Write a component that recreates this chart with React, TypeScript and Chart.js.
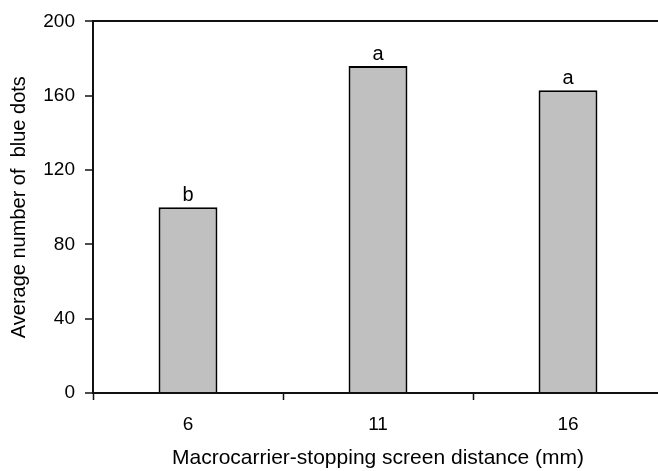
import React, { useEffect, useRef } from "react";
import { Chart, registerables } from "chart.js";

Chart.register(...registerables);

const categories = ["6", "11", "16"];
const values = [100, 176, 163];
const letters = ["b", "a", "a"];
const yTicks = [0, 40, 80, 120, 160, 200];
const xTitle = "Macrocarrier-stopping screen distance (mm)";
const yTitle = "Average number of  blue dots";

const FONT = "'Liberation Sans', Arial, Helvetica, sans-serif";
const LINE = "#111";

const letterPlugin = {
  id: "letters",
  afterDatasetsDraw(chart: any) {
    const meta = chart.getDatasetMeta(0);
    const ctx = chart.ctx;
    ctx.save();
    ctx.font = `20px ${FONT}`;
    ctx.fillStyle = "#000";
    ctx.textAlign = "center";
    ctx.textBaseline = "alphabetic";
    meta.data.forEach((bar: any, i: number) => {
      ctx.fillText(letters[i], bar.x, bar.y - 6);
    });
    ctx.restore();
  },
};

export default function App() {
  const ref = useRef<HTMLCanvasElement | null>(null);
  useEffect(() => {
    if (!ref.current) return;
    const chart = new Chart(ref.current, {
      type: "bar",
      data: {
        labels: categories,
        datasets: [
          {
            data: values,
            backgroundColor: "#c0c0c0",
            borderColor: "#000",
            borderWidth: 2,
            borderSkipped: "start",
            barPercentage: 0.31,
            categoryPercentage: 1,
          },
        ],
      },
      options: {
        responsive: false,
        animation: false,
        devicePixelRatio: 1,
        layout: { padding: { left: 0, right: 17, top: 20, bottom: 0 } },
        plugins: {
          legend: { display: false },
          tooltip: { enabled: false },
        },
        scales: {
          x: {
            type: "category",
            offset: true,
            afterFit: (s: any) => {
              s.height = 78;
            },
            grid: {
              offset: true,
              drawOnChartArea: false,
              drawTicks: true,
              tickLength: 7,
              tickColor: LINE,
              tickWidth: 1.5,
            },
            border: { display: true, color: LINE, width: 2 },
            ticks: {
              color: "#000",
              padding: 13,
              font: { family: FONT, size: 19 },
            },
            title: {
              display: true,
              text: xTitle,
              color: "#000",
              font: { family: FONT, size: 21 },
              padding: { top: 0, bottom: 0 },
            },
          },
          y: {
            type: "linear",
            min: 0,
            max: 200,
            afterFit: (s: any) => {
              s.width = 93;
            },
            afterBuildTicks: (s: any) => {
              s.ticks = yTicks.map((v) => ({ value: v }));
            },
            grid: {
              drawOnChartArea: true,
              color: (c: any) => (c.tick && c.tick.value === 200 ? LINE : "rgba(0,0,0,0)"),
              lineWidth: 2,
              drawTicks: true,
              tickLength: 8,
              tickColor: LINE,
              tickWidth: 1.5,
            },
            border: { display: true, color: LINE, width: 2 },
            ticks: {
              color: "#000",
              padding: 10,
              font: { family: FONT, size: 19 },
            },
            title: {
              display: true,
              text: yTitle,
              color: "#000",
              font: { family: FONT, size: 20 },
              padding: { top: 7, bottom: 12 },
            },
          },
        },
      },
      plugins: [letterPlugin],
    });
    return () => chart.destroy();
  }, []);
  return (
    <div
      style={{
        position: "fixed",
        left: 0,
        top: 0,
        width: 658,
        height: 471,
        overflow: "hidden",
        background: "#fff",
      }}
    >
      <canvas ref={ref} width={680} height={471} style={{ display: "block" }} />
    </div>
  );
}
